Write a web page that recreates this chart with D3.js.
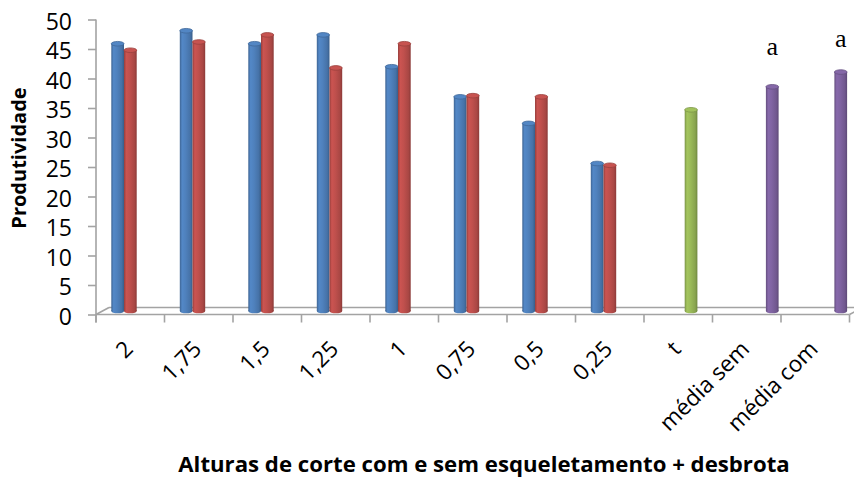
<!DOCTYPE html>
<html>
<head>
<meta charset="utf-8">
<script src="https://cdn.jsdelivr.net/npm/d3@7"></script>
<style>
  html, body { margin: 0; padding: 0; background: #fff; }
  svg { display: block; }
</style>
</head>
<body>
<svg id="chart" width="854" height="479"></svg>
<script>
// Categories on the x axis (cutting heights, control and the two means)
const categories = ["2", "1,75", "1,5", "1,25", "1", "0,75", "0,5", "0,25", "t", "média sem", "média com"];

// Series (null = no bar in that category)
const semValues = [45.3, 47.5, 45.3, 46.8, 41.4, 36.3, 31.8, 25.0, null, null, null];
const comValues = [44.2, 45.6, 46.8, 41.2, 45.3, 36.5, 36.3, 24.7, null, null, null];
const testemunhaValues = [null, null, null, null, null, null, null, null, 34.1, null, null];
const mediaValues = [null, null, null, null, null, null, null, null, null, 38.0, 40.5];

// Letters of the mean comparison test, written above the mean bars
const letterLabels = [null, null, null, null, null, null, null, null, null, "a", "a"];

const yTicks = [0, 5, 10, 15, 20, 25, 30, 35, 40, 45, 50];

const seriesKeys = ["sem", "com", "testemunha", "media"];
const seriesValues = { sem: semValues, com: comValues, testemunha: testemunhaValues, media: mediaValues };
const seriesColors = { sem: "#4f81bd", com: "#c0504d", testemunha: "#9bbb59", media: "#8064a2" };

const svg = d3.select("#chart");
const sans = "'Open Sans', 'Noto Sans', sans-serif";

// Plot frame
const plotLeft = 96, plotRight = 849.5, plotBottom = 314.5, plotTop = 19.5;
const depthX = 13, depthY = -7;             // full floor depth
const midX = depthX / 2, midY = depthY / 2; // bars stand at half depth

const x = d3.scaleBand().domain(categories).range([plotLeft, plotRight]).paddingInner(0).paddingOuter(0);
const xs = d3.scaleBand().domain(seriesKeys).range([8.8, 59.6]).paddingInner(0);
const y = d3.scaleLinear().domain([0, 50]).range([plotBottom, plotTop]);

const axisColor = "#a3a3a3";

// Cylinder gradients
const defs = svg.append("defs");
seriesKeys.forEach(k => {
  const base = d3.color(seriesColors[k]);
  const g = defs.append("linearGradient").attr("id", "grad-" + k)
    .attr("x1", "0%").attr("x2", "100%").attr("y1", "0%").attr("y2", "0%");
  g.append("stop").attr("offset", "0%").attr("stop-color", base.darker(0.7));
  g.append("stop").attr("offset", "18%").attr("stop-color", base.brighter(0.15));
  g.append("stop").attr("offset", "45%").attr("stop-color", base);
  g.append("stop").attr("offset", "82%").attr("stop-color", base.darker(0.35));
  g.append("stop").attr("offset", "100%").attr("stop-color", base.darker(0.9));
});

// Floor of the 3D plot area
const floor = svg.append("g").attr("fill", "none").attr("stroke", axisColor).attr("stroke-width", 1.6);
floor.append("line").attr("x1", plotLeft + depthX).attr("x2", plotRight + depthX)
  .attr("y1", plotBottom + depthY).attr("y2", plotBottom + depthY);
floor.append("line").attr("x1", plotLeft).attr("x2", plotLeft + depthX)
  .attr("y1", plotBottom).attr("y2", plotBottom + depthY);
floor.append("line").attr("x1", plotRight).attr("x2", plotRight + depthX)
  .attr("y1", plotBottom).attr("y2", plotBottom + depthY);

// Bars drawn as cylinders
const bars = [];
seriesKeys.forEach(k => {
  seriesValues[k].forEach((v, i) => {
    if (v != null) bars.push({ key: k, cat: categories[i], value: v });
  });
});

const ry = 2.3;
const barG = svg.append("g");
bars.forEach(d => {
  const w = xs.bandwidth();
  const x0 = x(d.cat) + xs(d.key) + midX;
  const cx = x0 + w / 2;
  const yTop = y(d.value) + midY;
  const yBot = y(0) + midY;
  const base = d3.color(seriesColors[d.key]);
  const g = barG.append("g");
  g.append("ellipse").attr("cx", cx).attr("cy", yBot).attr("rx", w / 2).attr("ry", ry)
    .attr("fill", `url(#grad-${d.key})`);
  g.append("rect").attr("x", x0).attr("y", yTop).attr("width", w).attr("height", yBot - yTop)
    .attr("fill", `url(#grad-${d.key})`);
  g.append("ellipse").attr("cx", cx).attr("cy", yTop).attr("rx", w / 2).attr("ry", ry)
    .attr("fill", base.brighter(0.1)).attr("stroke", base.darker(0.6)).attr("stroke-width", 0.8);
});

// Front edge of the floor (in front of the bars)
svg.append("line").attr("x1", plotLeft).attr("x2", plotRight).attr("y1", plotBottom).attr("y2", plotBottom)
  .attr("stroke", axisColor).attr("stroke-width", 1.6);

// Y axis
const yAxis = d3.axisLeft(y).tickValues(yTicks).tickSize(8).tickPadding(16).tickFormat(d3.format("d"));
const yG = svg.append("g").attr("transform", `translate(${plotLeft},0)`).call(yAxis);
yG.select(".domain").remove();
yG.append("line").attr("x1", 0).attr("x2", 0).attr("y1", plotTop).attr("y2", plotBottom + 8)
  .attr("stroke", axisColor).attr("stroke-width", 1.6);
yG.selectAll(".tick line").attr("stroke", axisColor).attr("stroke-width", 1.6);
yG.selectAll(".tick text")
  .attr("font-family", sans).attr("font-size", 23)
  .attr("fill", "#000").attr("dy", "0.42em");

// X axis
const xG = svg.append("g").attr("transform", `translate(0,${plotBottom})`);
const edges = categories.map(c => x(c)).concat([plotRight]);
xG.selectAll("line.tick").data(edges).join("line").attr("class", "tick")
  .attr("x1", d => d).attr("x2", d => d).attr("y1", 0).attr("y2", 8)
  .attr("stroke", axisColor).attr("stroke-width", 1.6);
xG.selectAll("text").data(categories).join("text")
  .attr("transform", d => `translate(${x(d) + x.bandwidth() / 2 + 4},${36}) rotate(-45)`)
  .attr("text-anchor", "end")
  .attr("font-family", sans).attr("font-size", 22.5)
  .attr("fill", "#000").text(d => d);

// Letters above the mean bars
const letterGap = [0, 0, 0, 0, 0, 0, 0, 0, 0, 32, 25];
letterLabels.forEach((t, i) => {
  if (!t) return;
  const v = mediaValues[i];
  svg.append("text")
    .attr("x", x(categories[i]) + xs("media") + midX + xs.bandwidth() / 2)
    .attr("y", y(v) + midY - letterGap[i])
    .attr("text-anchor", "middle")
    .attr("font-family", "'Liberation Serif', 'Times New Roman', serif").attr("font-size", 26)
    .attr("fill", "#000").text(t);
});

// Axis titles
svg.append("text")
  .attr("transform", "translate(26,158) rotate(-90)")
  .attr("text-anchor", "middle")
  .attr("font-family", sans).attr("font-weight", "bold").attr("font-size", 20)
  .attr("fill", "#000").text("Produtividade");

svg.append("text")
  .attr("x", 484).attr("y", 472)
  .attr("text-anchor", "middle")
  .attr("font-family", sans).attr("font-weight", "bold").attr("font-size", 22.2)
  .attr("fill", "#000").text("Alturas de corte com e sem esqueletamento + desbrota");
</script>
</body>
</html>
